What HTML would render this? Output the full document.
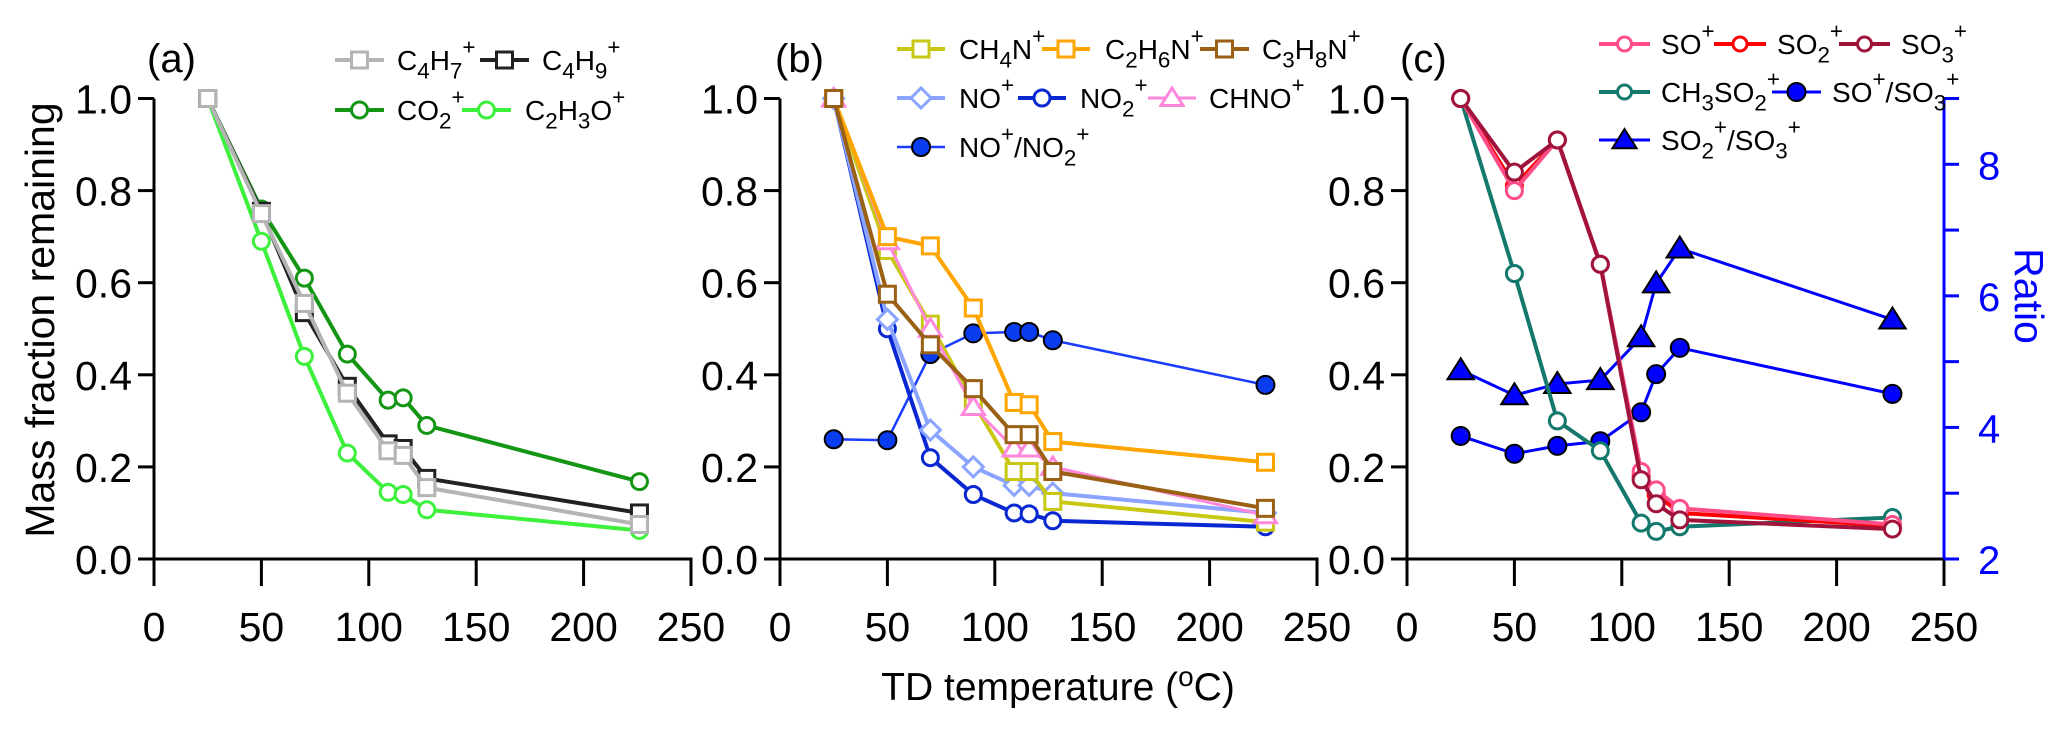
<!DOCTYPE html>
<html><head><meta charset="utf-8"><style>
html,body{margin:0;padding:0;background:#fff;}
svg{display:block;font-family:"Liberation Sans",sans-serif;}
</style></head><body>
<svg id="chart" width="2067" height="732" viewBox="0 0 2067 732" xmlns="http://www.w3.org/2000/svg"></svg>
<script>
const temps = [25, 50, 70, 90, 109, 116, 127, 226];
// panel a
const c4h7 = [1, 0.75, 0.555, 0.36, 0.235, 0.225, 0.155, 0.075];
const c4h9 = [1, 0.755, 0.535, 0.375, 0.25, 0.24, 0.175, 0.10];
const co2 = [1, 0.76, 0.61, 0.445, 0.345, 0.35, 0.29, 0.168];
const c2h3o = [1, 0.69, 0.44, 0.23, 0.145, 0.14, 0.107, 0.062];
// panel b
const ch4n = [1, 0.67, 0.51, 0.34, 0.19, 0.19, 0.125, 0.08];
const c2h6n = [1, 0.70, 0.68, 0.545, 0.34, 0.335, 0.255, 0.21];
const c3h8n = [1, 0.575, 0.465, 0.37, 0.27, 0.27, 0.19, 0.11];
const no = [1, 0.52, 0.28, 0.2, 0.16, 0.16, 0.143, 0.1];
const no2 = [1, 0.5, 0.22, 0.14, 0.10, 0.098, 0.083, 0.07];
const chno = [1, 0.69, 0.5, 0.33, 0.24, 0.24, 0.2, 0.095];
const noRatio = [0.26, 0.258, 0.445, 0.49, 0.493, 0.493, 0.475, 0.378];
// panel c
const so = [1, 0.80, 0.91, 0.64, 0.19, 0.15, 0.11, 0.075];
const so2 = [1, 0.81, 0.91, 0.64, 0.18, 0.14, 0.10, 0.072];
const so3 = [1, 0.84, 0.91, 0.64, 0.172, 0.12, 0.085, 0.065];
const ch3so2 = [1, 0.62, 0.30, 0.235, 0.078, 0.06, 0.07, 0.09];
const soRatio = [3.87, 3.6, 3.72, 3.79, 4.23, 4.81, 5.21, 4.51];
const so2Ratio = [4.87, 4.49, 4.66, 4.72, 5.37, 6.19, 6.72, 5.64];
const xTicks = [0, 50, 100, 150, 200, 250];
const yTicks = [0, 0.2, 0.4, 0.6, 0.8, 1.0];
const rTicks = [2, 4, 6, 8];
const rMinor = [3, 5, 7, 9];

const NS = "http://www.w3.org/2000/svg";
const svg = document.getElementById('chart');
function el(tag, attrs, parent) {
  const e = document.createElementNS(NS, tag);
  for (const k in attrs) e.setAttribute(k, attrs[k]);
  (parent || svg).appendChild(e);
  return e;
}
const Y0 = 559, Y1 = 98.5;
const yScale = v => Y0 + (Y1 - Y0) * v;
const rScale = v => Y0 + (Y1 - Y0) * (v - 2) / 7;
function mkX(x0) { return v => x0 + v * 537 / 250; }

function richText(g, x, y, str, size, color, anchor) {
  const t = el('text', {x: x, y: y, 'font-size': size, fill: color, 'text-anchor': anchor || 'start'}, g);
  let i = 0, cur = 0;
  while (i < str.length) {
    let ch = str[i], mode = 0;
    if (ch === '_' ) { mode = 1; ch = str[++i]; }
    else if (ch === '^') { mode = -1; ch = str[++i]; }
    const ts = el('tspan', {}, t);
    const target = mode === 1 ? size * 0.3 : mode === -1 ? -size * 0.55 : 0;
    if (target !== cur) { ts.setAttribute('dy', target - cur); cur = target; }
    if (mode !== 0) ts.setAttribute('font-size', size * 0.8);
    ts.textContent = ch;
    i++;
  }
  return t;
}

function marker(g, type, x, y, color, fill, size) {
  let m;
  if (type === 'sq') m = el('rect', {x: x - size, y: y - size, width: 2 * size, height: 2 * size, fill: fill, stroke: color, 'stroke-width': 3}, g);
  else if (type === 'ci') m = el('circle', {cx: x, cy: y, r: size, fill: fill, stroke: color, 'stroke-width': 3}, g);
  else if (type === 'dot') m = el('circle', {cx: x, cy: y, r: size, fill: fill, stroke: '#000', 'stroke-width': 2}, g);
  else if (type === 'di') m = el('polygon', {points: `${x},${y - size} ${x + size},${y} ${x},${y + size} ${x - size},${y}`, fill: fill, stroke: color, 'stroke-width': 3}, g);
  else if (type === 'tri') m = el('polygon', {points: `${x},${y - size} ${x + size * 1.1},${y + size * 0.75} ${x - size * 1.1},${y + size * 0.75}`, fill: fill, stroke: color, 'stroke-width': fill !== '#fff' ? 2 : 3}, g);
  return m;
}

function series(g, name, xs, ys, sx, sy, color, type, fill, size, lw) {
  const sg = el('g', {}, g);
  
  
  const pts = xs.map((t, i) => sx(t) + ',' + sy(ys[i])).join(' ');
  el('polyline', {points: pts, fill: 'none', stroke: color, 'stroke-width': lw, 'stroke-linejoin': 'round'}, sg);
  xs.forEach((t, i) => {
    const m = marker(sg, type, sx(t), sy(ys[i]), type === 'dot' || (type === 'tri' && fill !== '#fff') ? '#000' : color, fill, size);
    
    
  });
}

function legendEntry(g, x1, x2, y, label, color, type, fill, size, lw, tx) {
  const lg = el('g', {}, g);
  
  
  el('line', {x1: x1, x2: x2, y1: y, y2: y, stroke: color, 'stroke-width': lw}, lg);
  marker(lg, type, (x1 + x2) / 2, y, type === 'dot' || (type === 'tri' && fill !== '#fff') ? '#000' : color, fill, size);
  richText(lg, tx, y + 10, label, 28, '#000');
}

function axes(g, x0, showY, label, lx) {
  const sx = mkX(x0);
  const ag = el('g', {}, g);
  
  
  el('line', {x1: x0 - 16, x2: sx(250) + 1.5, y1: Y0, y2: Y0, stroke: '#000', 'stroke-width': 3}, ag);
  xTicks.forEach(t => {
    el('line', {x1: sx(t), x2: sx(t), y1: Y0, y2: Y0 + 27, stroke: '#000', 'stroke-width': 3}, ag);
    const tt = el('text', {x: sx(t), y: 641, 'font-size': 41, 'text-anchor': 'middle', fill: '#000'}, ag);
    tt.textContent = String(t);
  });
  const yg = el('g', {}, g);
  
  
  el('line', {x1: x0, x2: x0, y1: Y1, y2: Y0, stroke: '#000', 'stroke-width': 3}, yg);
  yTicks.forEach(v => {
    el('line', {x1: x0 - 16, x2: x0, y1: yScale(v), y2: yScale(v), stroke: '#000', 'stroke-width': 3}, yg);
    const tt = el('text', {x: x0 - 22, y: yScale(v) + 15, 'font-size': 41, 'text-anchor': 'end', fill: '#000'}, yg);
    tt.textContent = v.toFixed(1);
  });
  const pl = el('text', {x: lx, y: 72, 'font-size': 40, fill: '#000'}, g);
  pl.textContent = label;
  
  
  return sx;
}

// Panel a
const ga = el('g', {});  
const sxa = axes(ga, 154, true, '(a)', 147);
series(ga, 'series-c2h3o', temps, c2h3o, sxa, yScale, '#3cf03c', 'ci', '#fff', 8, 4);
series(ga, 'series-co2', temps, co2, sxa, yScale, '#149614', 'ci', '#fff', 8, 4);
series(ga, 'series-c4h9', temps, c4h9, sxa, yScale, '#222', 'sq', '#fff', 8, 4);
series(ga, 'series-c4h7', temps, c4h7, sxa, yScale, '#b4b4b4', 'sq', '#fff', 8, 4);
legendEntry(ga, 335, 384, 60, 'C_4H_7^+', '#b4b4b4', 'sq', '#fff', 8, 4, 397);
legendEntry(ga, 480, 529, 60, 'C_4H_9^+', '#222', 'sq', '#fff', 8, 4, 542);
legendEntry(ga, 335, 384, 110, 'CO_2^+', '#149614', 'ci', '#fff', 8, 4, 397);
legendEntry(ga, 462, 511, 110, 'C_2H_3O^+', '#3cf03c', 'ci', '#fff', 8, 4, 525);
const yt = el('text', {x: 0, y: 0, 'font-size': 41, 'text-anchor': 'middle', fill: '#000', transform: 'translate(54,320) rotate(-90)'});
yt.textContent = 'Mass fraction remaining';
 

// Panel b
const gb = el('g', {});  
const sxb = axes(gb, 780, true, '(b)', 775);
series(gb, 'series-no-no2-ratio', temps, noRatio, sxb, yScale, '#1a3cff', 'dot', '#0a3cf0', 9, 2.5);
series(gb, 'series-no2', temps, no2, sxb, yScale, '#0a28d2', 'ci', '#fff', 8, 4);
series(gb, 'series-no', temps, no, sxb, yScale, '#8aa4ff', 'di', '#fff', 10, 4);
series(gb, 'series-ch4n', temps, ch4n, sxb, yScale, '#c8c814', 'sq', '#fff', 8, 4);
series(gb, 'series-chno', temps, chno, sxb, yScale, '#ff88dd', 'tri', '#fff', 10, 3);
series(gb, 'series-c2h6n', temps, c2h6n, sxb, yScale, '#ffa500', 'sq', '#fff', 8, 4);
series(gb, 'series-c3h8n', temps, c3h8n, sxb, yScale, '#9a6014', 'sq', '#fff', 8, 4);
legendEntry(gb, 897, 945, 49, 'CH_4N^+', '#c8c814', 'sq', '#fff', 8, 4, 959);
legendEntry(gb, 1042, 1090, 49, 'C_2H_6N^+', '#ffa500', 'sq', '#fff', 8, 4, 1105);
legendEntry(gb, 1200, 1249, 49, 'C_3H_8N^+', '#9a6014', 'sq', '#fff', 8, 4, 1262);
legendEntry(gb, 897, 945, 98, 'NO^+', '#8aa4ff', 'di', '#fff', 10, 4, 959);
legendEntry(gb, 1018, 1066, 98, 'NO_2^+', '#0a28d2', 'ci', '#fff', 8, 4, 1080);
legendEntry(gb, 1148, 1196, 98, 'CHNO^+', '#ff88dd', 'tri', '#fff', 10, 3, 1209);
legendEntry(gb, 897, 945, 147, 'NO^+/NO_2^+', '#1a3cff', 'dot', '#0a3cf0', 9, 2.5, 959);
const xt = el('text', {x: 1058, y: 700, 'font-size': 39, 'text-anchor': 'middle', fill: '#000'});
xt.innerHTML = 'TD temperature (<tspan font-size="28" dy="-14">o</tspan><tspan dy="14">C)</tspan>';
 

// Panel c
const gc = el('g', {});  
const sxc = axes(gc, 1407, true, '(c)', 1400);
const rg = el('g', {}, gc);  
el('line', {x1: sxc(250), x2: sxc(250), y1: Y1, y2: Y0, stroke: '#0000ff', 'stroke-width': 3}, rg);
rTicks.forEach(v => {
  el('line', {x1: sxc(250), x2: sxc(250) + 15, y1: rScale(v), y2: rScale(v), stroke: '#0000ff', 'stroke-width': 3}, rg);
  const tt = el('text', {x: sxc(250) + 34, y: rScale(v) + 15, 'font-size': 40, 'text-anchor': 'start', fill: '#0000ff'}, rg);
  tt.textContent = v;
});
rMinor.forEach(v => el('line', {x1: sxc(250), x2: sxc(250) + 15, y1: rScale(v), y2: rScale(v), stroke: '#0000ff', 'stroke-width': 3}, rg));
const rt = el('text', {x: 0, y: 0, 'font-size': 41, 'text-anchor': 'middle', fill: '#0000ff', transform: 'translate(2015,296) rotate(90)'}, rg);
rt.textContent = 'Ratio';
series(gc, 'series-so2-so3-ratio', temps, so2Ratio, sxc, rScale, '#0000ff', 'tri', '#0000ff', 12, 3);
series(gc, 'series-so-so3-ratio', temps, soRatio, sxc, rScale, '#0000ff', 'dot', '#0000ff', 9, 3);
series(gc, 'series-ch3so2', temps, ch3so2, sxc, yScale, '#14786c', 'ci', '#fff', 8, 4);
series(gc, 'series-so2', temps, so2, sxc, yScale, '#ff0000', 'ci', '#fff', 8, 4);
series(gc, 'series-so', temps, so, sxc, yScale, '#ff4d88', 'ci', '#fff', 8, 4);
series(gc, 'series-so3', temps, so3, sxc, yScale, '#a0143c', 'ci', '#fff', 8, 4);
legendEntry(gc, 1599, 1650, 44, 'SO^+', '#ff4d88', 'ci', '#fff', 7, 4, 1661);
legendEntry(gc, 1714, 1766, 44, 'SO_2^+', '#ff0000', 'ci', '#fff', 7, 4, 1777);
legendEntry(gc, 1839, 1890, 44, 'SO_3^+', '#a0143c', 'ci', '#fff', 7, 4, 1901);
legendEntry(gc, 1599, 1650, 92, 'CH_3SO_2^+', '#14786c', 'ci', '#fff', 7, 4, 1661);
legendEntry(gc, 1772, 1821, 92, 'SO^+/SO_3^+', '#0000ff', 'dot', '#0000ff', 9, 3, 1832);
legendEntry(gc, 1599, 1650, 140, 'SO_2^+/SO_3^+', '#0000ff', 'tri', '#0000ff', 11, 3, 1661);
</script>
</body></html>
